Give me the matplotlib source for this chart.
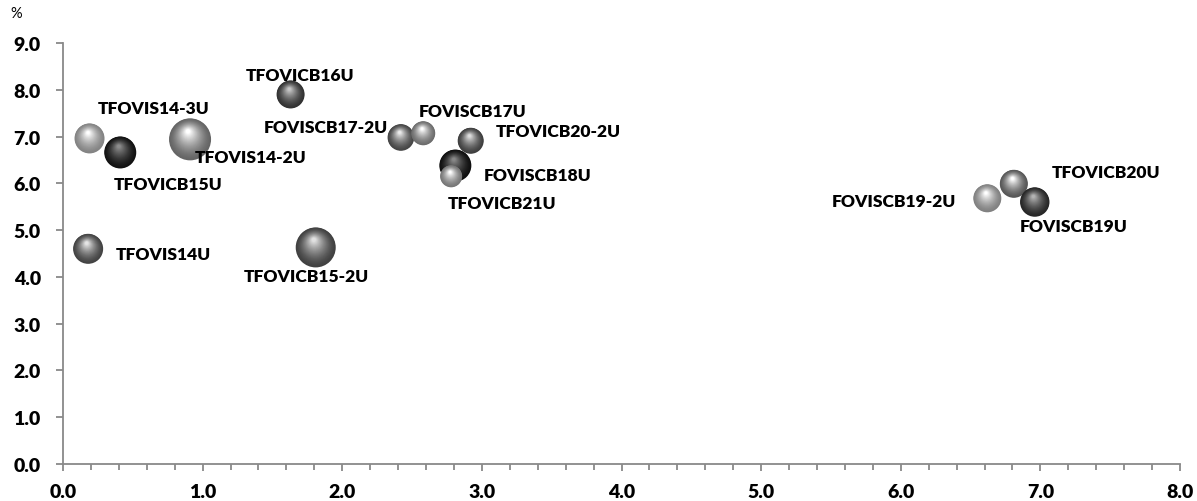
import matplotlib
matplotlib.use("Agg")
import matplotlib.pyplot as plt
import matplotlib.transforms as mtransforms
from matplotlib.ticker import MultipleLocator, FormatStrFormatter

# bond series: duration (x), yield % (y), bubble size value, gray tone
names = ["TFOVIS14-3U", "TFOVICB15U", "TFOVIS14-2U", "TFOVICB16U",
         "FOVISCB17-2U", "FOVISCB17U", "TFOVICB20-2U", "FOVISCB18U",
         "TFOVICB21U", "TFOVIS14U", "TFOVICB15-2U", "FOVISCB19-2U",
         "TFOVICB20U", "FOVISCB19U"]
duration = [0.19, 0.41, 0.91, 1.63, 2.42, 2.58, 2.92, 2.81, 2.78, 0.18, 1.81, 6.62, 6.81, 6.96]
yield_pct = [6.96, 6.66, 6.94, 7.90, 6.98, 7.07, 6.91, 6.38, 6.15, 4.60, 4.63, 5.68, 5.99, 5.60]
volume = [225, 256, 441, 196, 177, 144, 169, 256, 121, 225, 400, 196, 196, 216]
tone = [0.94, 0.13, 0.72, 0.36, 0.50, 0.78, 0.45, 0.11, 0.85, 0.48, 0.46, 0.92, 0.62, 0.28]

# label offsets in pixels (dx, dy)
label_off = {
    "TFOVIS14-3U": (64, 30), "TFOVICB15U": (48, -32), "TFOVIS14-2U": (61, -18),
    "TFOVICB16U": (9, 19), "FOVISCB17-2U": (-75, 10), "FOVISCB17U": (49, 22),
    "TFOVICB20-2U": (88, 10), "FOVISCB18U": (82, -9), "TFOVICB21U": (51, -27),
    "TFOVIS14U": (75, -5), "TFOVICB15-2U": (-9, -29), "FOVISCB19-2U": (-93, -3),
    "TFOVICB20U": (92, 12), "FOVISCB19U": (39, -24),
}

axis_col = "#898989"
font = "Lato"

fig = plt.figure(figsize=(11.97, 5.02), dpi=100)
ax = fig.add_axes([63 / 1197, 1 - 465 / 502, (1180 - 63) / 1197, (465 - 44) / 502])

ax.set_xlim(0, 8)
ax.set_ylim(0, 9)

def sphere(x, y, v, g, z):
    r_px = v ** 0.5            # radius in pixels
    n = 28
    lo = g * 0.55
    hi = min(1.0, g + 0.42)
    for k in range(n):
        t = k / (n - 1)
        rf = 1 - 0.9 * t
        d_pt = 2 * r_px * rf * 0.72
        off = t * 0.38 * r_px / 100.0
        tr = ax.transData + mtransforms.ScaledTranslation(-0.25 * off, off, fig.dpi_scale_trans)
        c = lo + (hi - lo) * (t ** 1.5)
        ax.scatter([x], [y], s=d_pt ** 2, color=(c, c, c), edgecolors="none",
                   transform=tr, zorder=z + k * 0.001, clip_on=False)

for i, nm in enumerate(names):
    sphere(duration[i], yield_pct[i], volume[i], tone[i], 3 + i * 0.1)

for i, nm in enumerate(names):
    dx, dy = label_off[nm]
    ax.annotate(nm, (duration[i], yield_pct[i]), xytext=(dx, dy), textcoords="offset pixels",
                ha="center", va="center", fontsize=12.5, fontweight="heavy",
                family=font, color="black", zorder=10)

for s in ["top", "right"]:
    ax.spines[s].set_visible(False)
for s in ["left", "bottom"]:
    ax.spines[s].set_color(axis_col)
    ax.spines[s].set_linewidth(1.3)

ax.xaxis.set_major_locator(MultipleLocator(1))
ax.xaxis.set_minor_locator(MultipleLocator(0.2))
ax.yaxis.set_major_locator(MultipleLocator(1))
ax.xaxis.set_major_formatter(FormatStrFormatter("%.1f"))
ax.yaxis.set_major_formatter(FormatStrFormatter("%.1f"))
ax.tick_params(axis="x", which="major", direction="out", length=5, width=1.3, color=axis_col, pad=9)
ax.tick_params(axis="x", which="minor", direction="out", length=4, width=1.3, color=axis_col)
ax.tick_params(axis="y", which="major", direction="out", length=5, width=1.3, color=axis_col, pad=11)
for lab in ax.get_xticklabels() + ax.get_yticklabels():
    lab.set_fontweight("heavy")
    lab.set_fontsize(14)
    lab.set_family(font)

fig.text(10 / 1197, 1 - 14 / 502, "%", fontsize=10.5, family=font, va="center", ha="left")

fig.savefig("out.png", dpi=100)
